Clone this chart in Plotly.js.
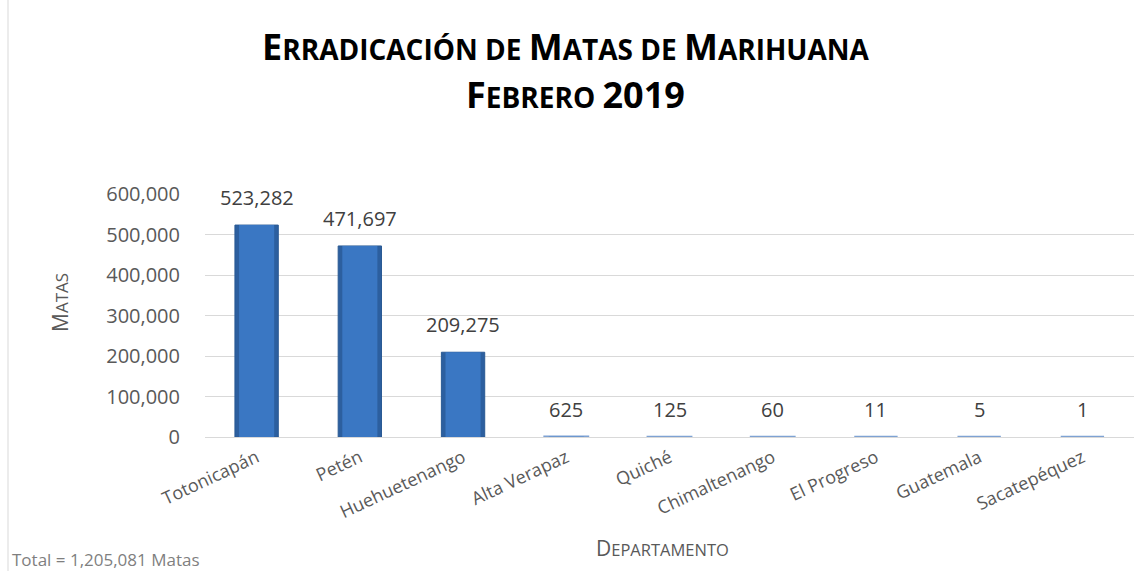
<!DOCTYPE html>
<html>
<head>
<meta charset="utf-8">
<script src="https://cdn.plot.ly/plotly-3.0.1.min.js"></script>
<style>
html,body{margin:0;padding:0;background:#fff;}
#chart{width:1134px;height:571px;}
</style>
</head>
<body>
<div id="chart"></div>
<script>
// ---- data ----
const departamentos = ["Totonicapán","Petén","Huehuetenango","Alta Verapaz","Quiché","Chimaltenango","El Progreso","Guatemala","Sacatepéquez"];
const matas = [523282, 471697, 209275, 625, 125, 60, 11, 5, 1];
const yTicks = [0, 100000, 200000, 300000, 400000, 500000, 600000];
const titleLine1 = "Erradicación de Matas de Marihuana";
const titleLine2 = "Febrero 2019";
const yTitle = "Matas";
const xTitle = "Departamento";
const totalNote = "Total = 1,205,081 Matas";

// ---- layout helpers ----
const M = {l:205, r:0, t:194, b:134};
const W = 1134 - M.l - M.r, H = 571 - M.t - M.b;
const px = x => (x - M.l) / W;
const py = y => (M.t + H - y) / H;
const fmt = v => v.toLocaleString('en-US');
const FONT = "Open Sans, Liberation Sans, sans-serif";

// small-caps rendering: uppercase letters / digits at big size, lowercase letters uppercased at small size
function smallCaps(text, big, small) {
  let out = "", buf = "", mode = null;
  const flush = () => {
    if (!buf) return;
    const sz = mode === "s" ? small : big;
    out += '<span style="font-size:' + sz + 'px">' + buf + '</span>';
    buf = "";
  };
  for (const ch of text) {
    const isLower = ch !== ch.toUpperCase();
    const m = isLower ? "s" : (ch === " " ? mode || "b" : "b");
    if (m !== mode) { flush(); mode = m; }
    buf += isLower ? ch.toUpperCase() : ch;
  }
  flush();
  return out;
}

const maxV = Math.max(...matas);
const tiny = matas.map(v => v / maxV < 0.01);

const traceOuter = {
  type: "bar",
  x: departamentos,
  y: matas,
  width: 0.42,
  marker: {color: "#2c5f9f", line: {color: tiny.map(t => t ? "#7ea2d3" : "#2a5a94"), width: tiny.map(t => t ? 2.5 : 1)}},
  hoverinfo: "x+y"
};
const traceInner = {
  type: "bar",
  x: departamentos,
  y: matas,
  width: 0.34,
  marker: {color: "#3a77c3", line: {width: 0}},
  hoverinfo: "skip"
};

const labelAnns = departamentos.map((d, i) => ({
  x: d, y: matas[i], xref: "x", yref: "y",
  text: fmt(matas[i]), showarrow: false,
  yanchor: "bottom", yshift: 12,
  font: {family: FONT, size: 20, color: "#404040"}
}));

const layout = {
  width: 1134, height: 571,
  margin: M,
  paper_bgcolor: "#fff", plot_bgcolor: "#fff",
  showlegend: false,
  barmode: "overlay",
  xaxis: {
    type: "category",
    tickangle: -25,
    tickfont: {family: FONT, size: 18, color: "#595959"},
    showgrid: false, showline: false, zeroline: false,
    ticks: "", ticklabelstandoff: 6
  },
  yaxis: {
    range: [0, 600000],
    tickvals: yTicks,
    ticktext: yTicks.map(fmt),
    tickfont: {family: FONT, size: 20, color: "#595959"},
    gridcolor: "#d9d9d9", gridwidth: 1,
    zeroline: true, zerolinecolor: "#d9d9d9", zerolinewidth: 1,
    showline: false, ticks: "", ticklabelstandoff: 24
  },
  shapes: [
    {type: "line", xref: "paper", yref: "paper", x0: px(8), x1: px(8), y0: py(0), y1: py(571),
     line: {color: "#d9d9d9", width: 1}}
  ],
  annotations: [
    {xref: "paper", yref: "paper", x: px(566), y: py(46), text: "<b>" + smallCaps(titleLine1, 36, 28) + "</b>", showarrow: false,
     xanchor: "center", yanchor: "middle",
     font: {family: FONT, size: 36, color: "#000"}},
    {xref: "paper", yref: "paper", x: px(575), y: py(95), text: "<b>" + smallCaps(titleLine2, 36, 28) + "</b>", showarrow: false,
     xanchor: "center", yanchor: "middle",
     font: {family: FONT, size: 36, color: "#000"}},
    {xref: "paper", yref: "paper", x: px(60), y: py(303), text: smallCaps(yTitle, 21, 17), showarrow: false, textangle: -90,
     xanchor: "center", yanchor: "middle",
     font: {family: FONT, size: 21, color: "#595959"}},
    {xref: "paper", yref: "paper", x: px(662), y: py(548), text: smallCaps(xTitle, 21, 16.5), showarrow: false,
     xanchor: "center", yanchor: "middle",
     font: {family: FONT, size: 21, color: "#595959"}},
    {xref: "paper", yref: "paper", x: px(10), y: py(559), text: totalNote, showarrow: false,
     xanchor: "left", yanchor: "middle",
     font: {family: FONT, size: 17, color: "#7f7f7f"}}
  ].concat(labelAnns)
};

Plotly.newPlot("chart", [traceOuter, traceInner], layout, {displayModeBar: false, staticPlot: true});
</script>
</body>
</html>
